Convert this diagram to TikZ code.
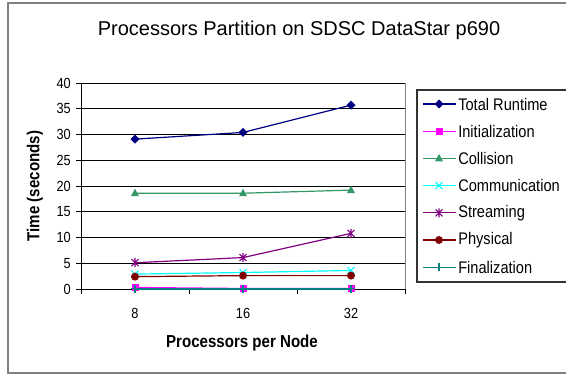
\documentclass[tikz,border=0pt]{standalone}
\usepackage{fontspec}
\setmainfont{Liberation Sans}
\newfontfamily\condfont[FakeStretch=0.87]{Liberation Sans}
\definecolor{cnavy}{HTML}{000080}
\definecolor{cmag}{HTML}{FF00FF}
\definecolor{cgreen}{HTML}{339966}
\definecolor{ccyan}{HTML}{00FFFF}
\definecolor{cpurple}{HTML}{800080}
\definecolor{cdred}{HTML}{800000}
\definecolor{cteal}{HTML}{008080}
\tikzset{
  dmark/.pic={\fill (0,-4.5)--(4.5,0)--(0,4.5)--(-4.5,0)--cycle;},
  smark/.pic={\fill (-3.5,-3.5) rectangle (3.5,3.5);},
  tmark/.pic={\fill (0,-4.5)--(4,3)--(-4,3)--cycle;},
  xmark/.pic={\draw[line width=0.8pt] (-3.5,-3.5)--(3.5,3.5) (-3.5,3.5)--(3.5,-3.5);},
  amark/.pic={\draw[line width=0.8pt] (-3.5,-3.5)--(3.5,3.5) (-3.5,3.5)--(3.5,-3.5) (0,-4.5)--(0,4.5);},
  cmark/.pic={\fill (0,0) circle (4);},
  pmark/.pic={\draw[line width=0.8pt] (-4,0)--(4,0) (0,-4)--(0,4);},
  series/.style={line width=0.9pt},
  tick/.style={font=\condfont\fontsize{11}{13}\selectfont},
  axlabel/.style={font=\condfont\fontsize{13}{15}\selectfont\bfseries},
  legtext/.style={anchor=west,inner sep=0pt,font=\condfont\fontsize{12.6}{14}\selectfont},
}
\begin{document}
\begin{tikzpicture}[x=0.75pt,y=-0.75pt]
\useasboundingbox (0,0) rectangle (566,374);
\clip (0,0) rectangle (566,374);
% outer frame
\draw[gray,line width=0.8pt] (8,3) rectangle (620,373);
% title
\node[font=\fontsize{15}{17}\selectfont] (title) at (299,30) {Processors Partition on SDSC DataStar p690};
% grid lines
\foreach \v in {5,10,...,40}
  \draw[black,line width=0.6pt] (81,{289-5.15*\v}) -- (405,{289-5.15*\v});
\draw[gray,line width=0.6pt] (405,83) -- (405,289);
% axes
\draw[black,line width=0.6pt] (81,83) -- (81,289) -- (405,289);
\foreach \v in {0,5,...,40}{
  \draw[black,line width=0.6pt] (76,{289-5.15*\v}) -- (81,{289-5.15*\v});
  \node[tick,anchor=east,inner sep=0pt] at (71,{289-5.15*\v}) {\v};
}
\foreach \x in {81,189,297,405}
  \draw[black,line width=0.6pt] (\x,289) -- (\x,294);
\node[tick] (x8) at (135,313) {8};
\node[tick] (x16) at (243,313) {16};
\node[tick] (x32) at (351,313) {32};
\node[axlabel] (xlab) at (242,343) {Processors per Node};
\node[axlabel,rotate=90] (ylab) at (35,186) {Time (seconds)};
% data coordinates
\begin{scope}[shift={(0,289)},yscale=-5.15]
  \coordinate (tr1) at (135,29.1); \coordinate (tr2) at (243,30.4); \coordinate (tr3) at (351,35.7);
  \coordinate (in1) at (135,0.3);  \coordinate (in2) at (243,0.1);  \coordinate (in3) at (351,0.1);
  \coordinate (co1) at (135,18.6); \coordinate (co2) at (243,18.6); \coordinate (co3) at (351,19.2);
  \coordinate (cm1) at (135,2.9);  \coordinate (cm2) at (243,3.2);  \coordinate (cm3) at (351,3.6);
  \coordinate (st1) at (135,5.1);  \coordinate (st2) at (243,6.1);  \coordinate (st3) at (351,10.8);
  \coordinate (ph1) at (135,2.4);  \coordinate (ph2) at (243,2.6);  \coordinate (ph3) at (351,2.6);
  \coordinate (fi1) at (135,0.02); \coordinate (fi2) at (243,0.02); \coordinate (fi3) at (351,0.02);
\end{scope}
% series
\draw[series,cnavy] (tr1)--(tr2)--(tr3);
\foreach \p in {tr1,tr2,tr3} \pic[cnavy] at (\p) {dmark};
\draw[series,cmag] (in1)--(in2)--(in3);
\foreach \p in {in1,in2,in3} \pic[cmag] at (\p) {smark};
\draw[series,cgreen] (co1)--(co2)--(co3);
\foreach \p in {co1,co2,co3} \pic[cgreen] at (\p) {tmark};
\draw[series,ccyan] (cm1)--(cm2)--(cm3);
\foreach \p in {cm1,cm2,cm3} \pic[ccyan] at (\p) {xmark};
\draw[series,cpurple] (st1)--(st2)--(st3);
\foreach \p in {st1,st2,st3} \pic[cpurple] at (\p) {amark};
\draw[series,cdred] (ph1)--(ph2)--(ph3);
\foreach \p in {ph1,ph2,ph3} \pic[cdred] at (\p) {cmark};
\draw[series,cteal] (fi1)--(fi2)--(fi3);
\foreach \p in {fi1,fi2,fi3} \pic[cteal] at (\p) {pmark};
% legend
\draw[black!80,line width=0.8pt] (417,90) rectangle (620,282);
\foreach \c/\m/\t [count=\i from 0] in {cnavy/dmark/Total Runtime, cmag/smark/Initialization, cgreen/tmark/Collision, ccyan/xmark/Communication, cpurple/amark/Streaming, cdred/cmark/Physical, cteal/pmark/Finalization}{
  \coordinate (l\i a) at (423,{104+27.2*\i});
  \coordinate (l\i b) at (456,{104+27.2*\i});
  \draw[series,\c] (l\i a) -- (l\i b);
  \pic[\c] at (439,{104+27.2*\i}) {\m};
  \node[legtext] (lt\i) at (458,{104+27.2*\i}) {\t};
}
\end{tikzpicture}
\end{document}
